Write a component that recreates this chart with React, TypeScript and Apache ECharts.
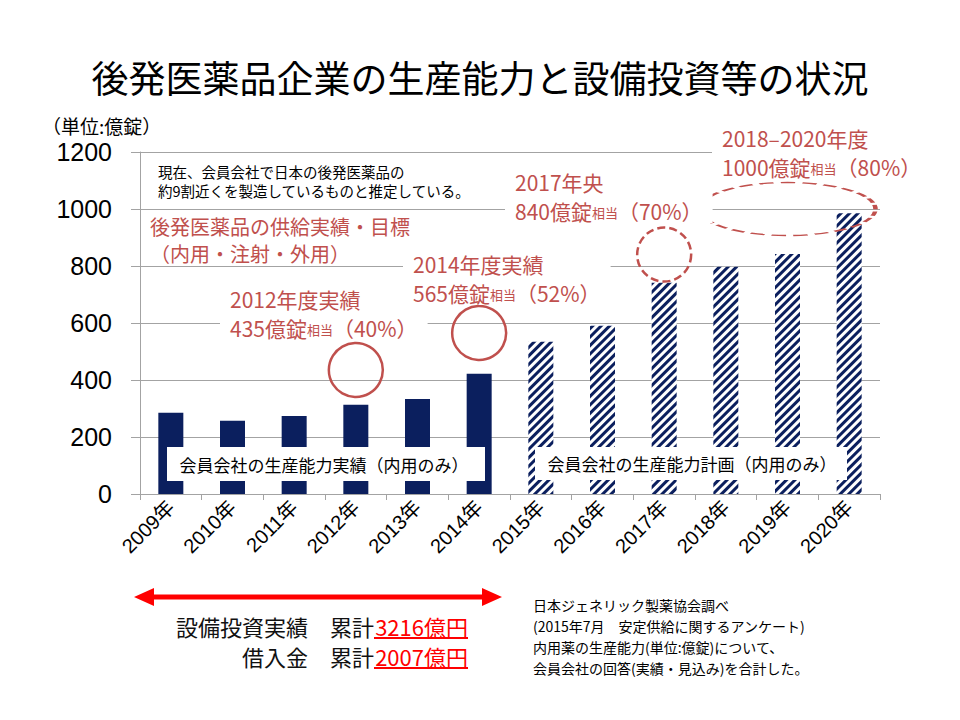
import React, { useEffect, useRef } from 'react';
import * as echarts from 'echarts';

const years = ['2009年', '2010年', '2011年', '2012年', '2013年', '2014年', '2015年', '2016年', '2017年', '2018年', '2019年', '2020年'];
const capacity = [285, 257, 274, 313, 333, 422, 534, 590, 741, 797, 842, 985];
const isPlan = [false, false, false, false, false, false, true, true, true, true, true, true];
const yMin = 0;
const yMax = 1200;
const yStep = 200;
const targetYears = ['2012年', '2014年', '2017年', '2019年'];
const targetValues = [435, 565, 840, 1000];
const targetPlanned = [false, false, true, true];

const FONT = '"Noto Sans CJK JP", sans-serif';
const NUMFONT = '"Liberation Sans", Arial, "Noto Sans CJK JP", sans-serif';
const NAVY = '#0b1f5e';
const RED = '#c0504d';
const BRIGHT = '#ff0000';
const GRID = '#a3a3a3';

const ELLIPSE = 'path://M0 50 A50 50 0 1 1 100 50 A50 50 0 1 1 0 50 Z';

function redLabel(x: number, y: number, line1: string, num: string, pct: string) {
  return {
    type: 'text', x, y, z: 100,
    style: {
      text: `{a|${line1}}\n{a|${num}}{b|相当}{a|（${pct}）}`,
      align: 'left', verticalAlign: 'middle',
      backgroundColor: '#fff', padding: [2, 10],
      rich: {
        a: { fontSize: 21, fontFamily: FONT, fill: RED, lineHeight: 29, verticalAlign: 'bottom' },
        b: { fontSize: 13, fontFamily: FONT, fill: RED, lineHeight: 29, verticalAlign: 'bottom', padding: [0, 0, 2, 0] },
      },
    },
  };
}

export default function App() {
  const ref = useRef<HTMLDivElement>(null);
  useEffect(() => {
    document.body.style.margin = '0';
    if (!ref.current) return;
    const chart = echarts.init(ref.current, null, { renderer: 'svg' });
    const option: any = {
      animation: false,
      backgroundColor: '#fff',
      grid: { left: 140, right: 80, top: 152, bottom: 226, containLabel: false },
      xAxis: {
        type: 'category', data: years,
        axisLine: { lineStyle: { color: GRID, width: 1 } },
        axisTick: { show: true, length: 6, lineStyle: { color: GRID } },
        axisLabel: { interval: 0, rotate: 45, margin: 10, fontSize: 20, color: '#000', fontFamily: NUMFONT },
      },
      yAxis: {
        type: 'value', min: yMin, max: yMax, interval: yStep,
        axisLine: { show: true, lineStyle: { color: GRID, width: 1 } },
        axisTick: { show: true, length: 9, lineStyle: { color: GRID } },
        splitLine: { lineStyle: { color: GRID, width: 1 } },
        axisLabel: { fontSize: 25, color: '#000', margin: 28, fontFamily: NUMFONT, formatter: (v: number) => String(v) },
      },
      series: [
        {
          type: 'bar', barWidth: 25,
          data: capacity.map((v, i) => ({
            value: v,
            itemStyle: isPlan[i]
              ? { color: '#fff', decal: { symbol: 'rect', symbolSize: 1, color: NAVY, dashArrayX: [1, 0], dashArrayY: [2.2, 2.6], rotation: -Math.PI / 4 } }
              : { color: NAVY },
          })),
          markPoint: {
            silent: true,
            label: { show: false },
            data: targetYears.map((y, i) => {
              const isRange = i === targetYears.length - 1;
              return {
                coord: [y, targetValues[i]],
                symbol: isRange ? ELLIPSE : 'circle',
                symbolSize: isRange ? [176, 53] : 54,
                itemStyle: {
                  color: 'rgba(0,0,0,0)', borderColor: RED, borderWidth: 2.5,
                  borderType: targetPlanned[i] ? [8, 4] : 'solid',
                },
              };
            }),
          },
        },
      ],
      graphic: [
        { type: 'text', x: 480, y: 77, z: 100, style: { text: '後発医薬品企業の生産能力と設備投資等の状況', fontSize: 37, fontFamily: FONT, fill: '#000', align: 'center', verticalAlign: 'middle' } },
        { type: 'text', x: 42, y: 125, z: 100, style: { text: '（単位:億錠）', fontSize: 19, fontFamily: FONT, fill: '#000', align: 'left', verticalAlign: 'middle' } },
        { type: 'text', x: 158, y: 181, z: 100, style: { text: '現在、会員会社で日本の後発医薬品の\n約9割近くを製造しているものと推定している。', fontSize: 14.5, lineHeight: 19, fontFamily: FONT, fill: '#000', align: 'left', verticalAlign: 'middle' } },
        { type: 'text', x: 150, y: 240, z: 100, style: { text: '後発医薬品の供給実績・目標\n（内用・注射・外用）', fontSize: 20, lineHeight: 27, fontFamily: FONT, fill: RED, align: 'left', verticalAlign: 'middle' } },
        redLabel(220, 309, '2012年度実績', '435億錠', '40%'),
        redLabel(403, 274, '2014年度実績', '565億錠', '52%'),
        redLabel(505, 192, '2017年央', '840億錠', '70%'),
        redLabel(712, 148, '2018–2020年度', '1000億錠', '80%'),
        { type: 'rect', z: 100, shape: { x: 167, y: 447, width: 318, height: 34 }, style: { fill: '#fff' } },
        { type: 'text', x: 324, y: 464, z: 101, style: { text: '会員会社の生産能力実績（内用のみ）', fontSize: 17, fontFamily: FONT, fill: '#000', align: 'center', verticalAlign: 'middle' } },
        { type: 'rect', z: 100, shape: { x: 535, y: 447, width: 312, height: 33 }, style: { fill: '#fff' } },
        { type: 'text', x: 692, y: 463, z: 101, style: { text: '会員会社の生産能力計画（内用のみ）', fontSize: 17, fontFamily: FONT, fill: '#000', align: 'center', verticalAlign: 'middle' } },
        {
          type: 'polygon', z: 100,
          shape: { points: [[134, 597], [154, 588], [154, 594.5], [482, 594.5], [482, 588], [502, 597], [482, 606], [482, 599.5], [154, 599.5], [154, 606]] },
          style: { fill: BRIGHT },
        },
        { type: 'text', x: 374, y: 626, z: 100, style: { text: '設備投資実績　累計', fontSize: 22, fontFamily: FONT, fill: '#111', align: 'right', verticalAlign: 'middle' } },
        { type: 'text', x: 468, y: 626, z: 100, style: { text: '3216億円', fontSize: 22, fontFamily: FONT, fill: BRIGHT, align: 'right', verticalAlign: 'middle' } },
        { type: 'line', z: 100, shape: { x1: 374, y1: 638, x2: 468, y2: 638 }, style: { stroke: BRIGHT, lineWidth: 2 } },
        { type: 'text', x: 374, y: 656, z: 100, style: { text: '借入金　累計', fontSize: 22, fontFamily: FONT, fill: '#111', align: 'right', verticalAlign: 'middle' } },
        { type: 'text', x: 468, y: 656, z: 100, style: { text: '2007億円', fontSize: 22, fontFamily: FONT, fill: BRIGHT, align: 'right', verticalAlign: 'middle' } },
        { type: 'line', z: 100, shape: { x1: 374, y1: 668, x2: 468, y2: 668 }, style: { stroke: BRIGHT, lineWidth: 2 } },
        { type: 'text', x: 533, y: 636, z: 100, style: { text: '日本ジェネリック製薬協会調べ\n(2015年7月　安定供給に関するアンケート)\n内用薬の生産能力(単位:億錠)について、\n会員会社の回答(実績・見込み)を合計した。', fontSize: 14, lineHeight: 21, fontFamily: FONT, fill: '#000', align: 'left', verticalAlign: 'middle' } },
      ],
    };
    chart.setOption(option);
    return () => chart.dispose();
  }, []);
  return <div ref={ref} style={{ width: 960, height: 720 }} />;
}
